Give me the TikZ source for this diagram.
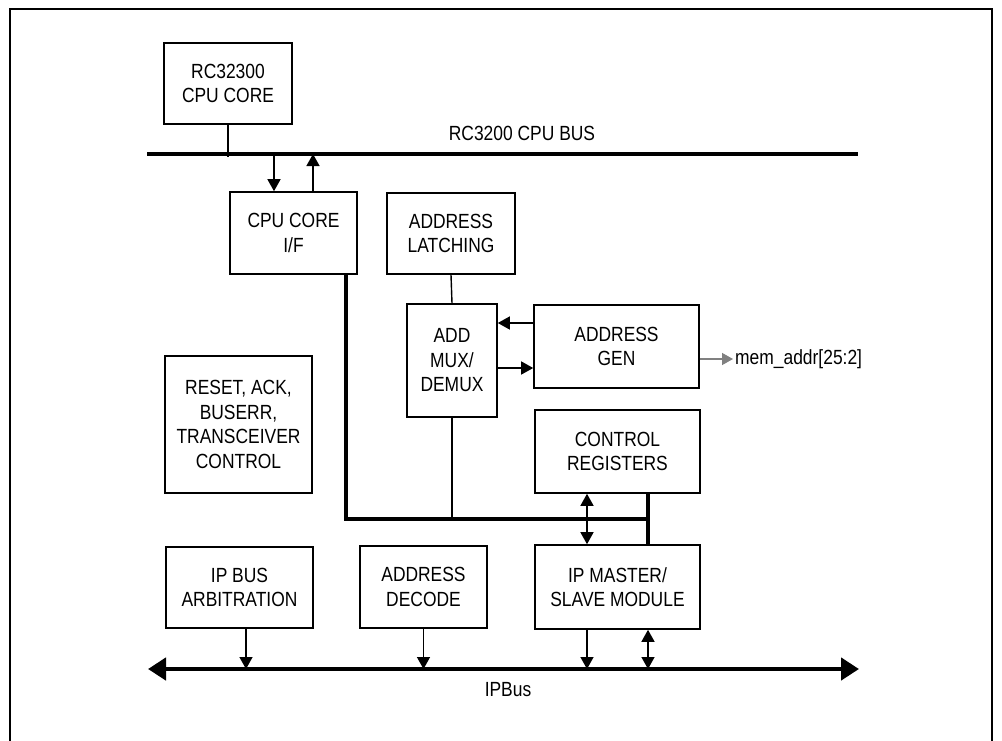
\documentclass[tikz,border=0pt]{standalone}
\usepackage{fontspec}
\setmainfont{Liberation Sans}[FakeStretch=0.85]
\usepackage{tikz}
\usetikzlibrary{arrows.meta,calc}
\definecolor{SigGray}{HTML}{808080}
\tikzset{
  blk/.style={draw,line width=1.6pt,align=center,inner sep=0pt,
    font=\fontsize{20.5}{24.5}\selectfont},
  lbl/.style={inner sep=2pt,font=\fontsize{20.5}{24.5}\selectfont},
  wire/.style={line width=1.4pt},
  sig/.style={-{Triangle[length=12pt,width=13pt]},line width=1.4pt},
  dsig/.style={{Triangle[length=12pt,width=13pt]}-{Triangle[length=12pt,width=13pt]},line width=1.4pt},
  gsig/.style={-{Triangle[length=11pt,width=12pt]},line width=1.4pt,draw=SigGray,color=SigGray},
  bus/.style={line width=4.6pt},
  ipbus/.style={{Triangle[length=18pt,width=22pt]}-{Triangle[length=18pt,width=22pt]},line width=4.6pt}
}

\begin{document}
\begin{tikzpicture}[x=1pt,y=-1pt]
  \useasboundingbox (0,0) rectangle (1002,740);
  % frame
  \draw[line width=1.3pt] (10,745) -- (10,9) -- (992,9) -- (992,745);

  % blocks
  \node[blk,minimum width=128pt,minimum height=81pt] (core) at (228,83.5) {RC32300\\CPU CORE};
  \node[blk,minimum width=127pt,minimum height=82pt] (coreif) at (293.5,233) {CPU CORE\\I/F};
  \node[blk,minimum width=128pt,minimum height=81pt] (latch) at (451,233.5) {ADDRESS\\LATCHING};
  \node[blk,minimum width=90pt,minimum height=113pt] (mux) at (452,360.5) {ADD\\MUX/\\DEMUX};
  \node[blk,minimum width=165pt,minimum height=83pt] (gen) at (616.5,346.5) {ADDRESS\\GEN};
  \node[blk,minimum width=165pt,minimum height=83pt] (ctrl) at (617.5,451.5) {CONTROL\\REGISTERS};
  \node[blk,minimum width=147pt,minimum height=137pt] (rst) at (238.5,424.5) {RESET, ACK,\\BUSERR,\\TRANSCEIVER\\CONTROL};
  \node[blk,minimum width=147pt,minimum height=81pt] (arb) at (239.5,587.5) {IP BUS\\ARBITRATION};
  \node[blk,minimum width=127pt,minimum height=82pt] (dec) at (423.5,587) {ADDRESS\\DECODE};
  \node[blk,minimum width=165pt,minimum height=84pt] (ipm) at (617.5,587) {IP MASTER/\\SLAVE MODULE};
  \node[lbl,anchor=west] (memaddr) at (733,359) {mem\_addr[25:2]};

  % buses
  \coordinate (cbl) at (147,154);
  \coordinate (cbr) at (858,154);
  \coordinate (ipl) at (148,669);
  \coordinate (ipr) at (859,669);
  \coordinate (jn) at (648,519);
  \draw[bus] (cbl) -- (cbr);
  \node[lbl] (cpubus) at (522,133) {RC3200 CPU BUS};
  \draw[ipbus] (ipl) -- (ipr);
  \node[lbl] (ipbuslbl) at (508,690) {IPBus};

  % CPU bus side
  \draw[wire] (core.south) -- ([yshift=-3pt]core.south |- cbl);
  \draw[sig] ([xshift=-19.5pt]coreif.north |- cbl) -- ([xshift=-19.5pt]coreif.north);
  \draw[sig] ([xshift=19.5pt]coreif.north) -- ([xshift=19.5pt]coreif.north |- cbl);
  \draw[wire] (latch.south) -- (mux.north);
  \draw[sig] ([yshift=23.5pt]gen.west) -- ([yshift=23.5pt]gen.west -| mux.east);
  \draw[sig] ([yshift=-7.5pt]mux.east) -- ([yshift=-7.5pt]mux.east -| gen.west);
  \draw[gsig] (memaddr.west -| gen.east) -- (memaddr.west);

  % internal bus
  \draw[bus] ([xshift=52.5pt]coreif.south) |- (jn);
  \draw[bus] ([xshift=30.5pt]ctrl.south) -- ([xshift=30.5pt]ipm.north);
  \draw[wire] (mux.south) -- (mux.south |- jn);
  \draw[dsig] ([xshift=-30.5pt]ctrl.south) -- ([xshift=-30.5pt]ipm.north);

  % IP bus side
  \draw[sig] ([xshift=6.5pt]arb.south) -- ([xshift=6.5pt]arb.south |- ipl);
  \draw[sig] (dec.south) -- (dec.south |- ipl);
  \draw[sig] ([xshift=-30.5pt]ipm.south) -- ([xshift=-30.5pt]ipm.south |- ipl);
  \draw[dsig] ([xshift=30.5pt]ipm.south) -- ([xshift=30.5pt]ipm.south |- ipl);
\end{tikzpicture}
\end{document}
